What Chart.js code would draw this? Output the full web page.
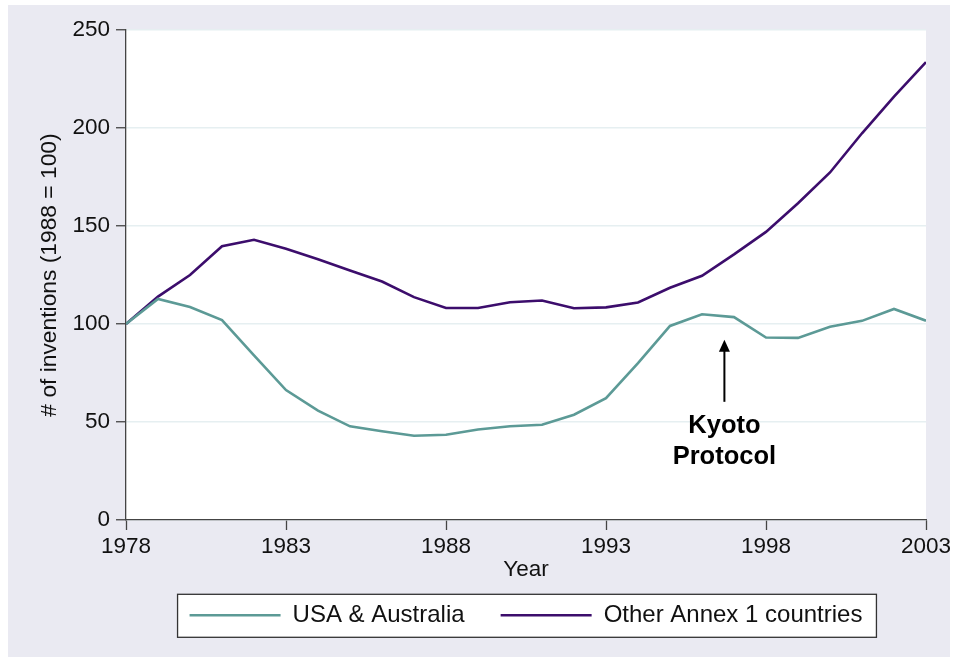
<!DOCTYPE html>
<html>
	<head>
		<meta charset="utf-8">
		<script src="https://cdn.jsdelivr.net/npm/chart.js@4.4.0/dist/chart.umd.min.js"></script>
		<title># of inventions</title>
		<style>
			body { margin: 0; background: #ffffff; }
			#wrap { width: 958px; height: 662px; }
		</style>
	</head>
	<body>
		<div id="wrap"><canvas id="myChart" width="958" height="662"></canvas></div>
		<script>
			var years = [1978, 1979, 1980, 1981, 1982, 1983, 1984, 1985, 1986, 1987, 1988, 1989, 1990,
				1991, 1992, 1993, 1994, 1995, 1996, 1997, 1998, 1999, 2000, 2001, 2002, 2003];
			var usaAus = [100, 112.8, 108.7, 102, 84, 66.3, 55.8, 47.8, 45.3, 43, 43.5, 46.2, 47.8,
				48.6, 53.7, 62.2, 80, 99, 105, 103.5, 93.1, 92.9, 98.6, 101.6, 107.7, 101.7];
			var otherAnnex = [100, 114, 125, 139.7, 143, 138.4, 133, 127.3, 121.7, 113.7, 108.2, 108.2, 111.1,
				112, 108, 108.5, 111, 118.5, 124.6, 135.5, 147, 161.6, 177.3, 197.3, 216, 233.6];
			var seriesNames = ['USA & Australia', 'Other Annex 1 countries'];

			// Kyoto note, in data units
			var kyotoYear = 1996.7;
			var arrowTop = 92;
			var arrowBottom = 60.3;
			var noteLines = ['Kyoto', 'Protocol'];
			var noteBaselines = [44.6, 28.5];

			var font = "'Liberation Sans', Arial, sans-serif";
			var lavender = '#eaeaf2';

			function pts(vals) {
				return years.map(function (y, i) { return {x: y, y: vals[i]}; });
			}

			var background = {
				id: 'background',
				beforeDraw: function (chart) {
					var ctx = chart.ctx;
					var a = chart.chartArea;
					ctx.save();
					ctx.fillStyle = '#ffffff';
					ctx.fillRect(0, 0, chart.width, chart.height);
					ctx.fillStyle = lavender;
					ctx.fillRect(8, 5, chart.width - 16, chart.height - 10);
					ctx.fillStyle = '#ffffff';
					ctx.fillRect(a.left, a.top, a.right - a.left, a.bottom - a.top);

					// frame round the legend
					var boxes = chart.legend.legendHitBoxes;
					var l = Infinity, r = -Infinity, mid = 0;
					boxes.forEach(function (b) {
						l = Math.min(l, b.left);
						r = Math.max(r, b.left + b.width);
						mid = b.top + b.height / 2;
					});
					ctx.fillStyle = '#ffffff';
					ctx.strokeStyle = '#333333';
					ctx.lineWidth = 1.3;
					ctx.fillRect(l - 12, mid - 21, r - l + 26, 43);
					ctx.strokeRect(l - 12, mid - 21, r - l + 26, 43);
					ctx.restore();
				}
			};

			var kyotoNote = {
				id: 'kyotoNote',
				afterDatasetsDraw: function (chart) {
					var ctx = chart.ctx;
					var x = chart.scales.x.getPixelForValue(kyotoYear);
					var yTop = chart.scales.y.getPixelForValue(arrowTop);
					var yBot = chart.scales.y.getPixelForValue(arrowBottom);
					ctx.save();
					ctx.strokeStyle = '#000000';
					ctx.fillStyle = '#000000';
					ctx.lineWidth = 2;
					ctx.beginPath();
					ctx.moveTo(x, yBot);
					ctx.lineTo(x, yTop + 8);
					ctx.stroke();
					ctx.beginPath();
					ctx.moveTo(x, yTop);
					ctx.lineTo(x - 5.5, yTop + 12);
					ctx.lineTo(x + 5.5, yTop + 12);
					ctx.closePath();
					ctx.fill();
					ctx.font = 'bold 25.5px ' + font;
					ctx.textAlign = 'center';
					ctx.textBaseline = 'alphabetic';
					noteLines.forEach(function (t, i) {
						ctx.fillText(t, x, chart.scales.y.getPixelForValue(noteBaselines[i]));
					});
					ctx.restore();
				}
			};

			var chart = new Chart(document.getElementById('myChart'), {
				type: 'line',
				data: {
					datasets: [{
						label: seriesNames[0],
						data: pts(usaAus),
						borderColor: '#5c9a96',
						backgroundColor: '#5c9a96',
						borderWidth: 2.6,
						pointRadius: 0,
						tension: 0
					}, {
						label: seriesNames[1],
						data: pts(otherAnnex),
						borderColor: '#3c0d6c',
						backgroundColor: '#3c0d6c',
						borderWidth: 2.6,
						pointRadius: 0,
						tension: 0
					}]
				},
				options: {
					responsive: false,
					animation: false,
					events: [],
					layout: {
						padding: {left: 0, top: 30, right: 32, bottom: 24.7}
					},
					plugins: {
						tooltip: {enabled: false},
						legend: {
							position: 'bottom',
							fullSize: false,
							labels: {
								boxWidth: 91,
								boxHeight: 0,
								padding: 36,
								color: '#111111',
								font: {family: font, size: 24}
							}
						}
					},
					scales: {
						x: {
							type: 'linear',
							min: 1978,
							max: 2003,
							afterFit: function (s) { s.height = 47.3; },
							ticks: {
								stepSize: 5,
								padding: 3,
								maxRotation: 0,
								color: '#111111',
								font: {family: font, size: 22.5},
								callback: function (v) { return String(v); }
							},
							grid: {
								drawOnChartArea: false,
								tickLength: 10,
								tickColor: '#444444',
								tickWidth: 1.3
							},
							border: {color: '#444444', width: 1.3},
							title: {
								display: true,
								text: 'Year',
								color: '#111111',
								font: {family: font, size: 22.5},
								padding: {top: 0, bottom: -16}
							}
						},
						y: {
							min: 0,
							max: 250,
							afterFit: function (s) { s.width = 126; },
							ticks: {
								stepSize: 50,
								padding: 6,
								color: '#111111',
								font: {family: font, size: 22.5}
							},
							grid: {
								color: '#e6eff1',
								lineWidth: 1.5,
								tickLength: 10,
								tickColor: '#444444',
								tickWidth: 1.3
							},
							border: {color: '#444444', width: 1.3},
							title: {
								display: true,
								text: '# of inventions (1988 = 100)',
								color: '#111111',
								font: {family: font, size: 22.8},
								padding: {top: 36.5, bottom: 0}
							}
						}
					}
				},
				plugins: [background, kyotoNote]
			});
		</script>
	</body>
</html>
